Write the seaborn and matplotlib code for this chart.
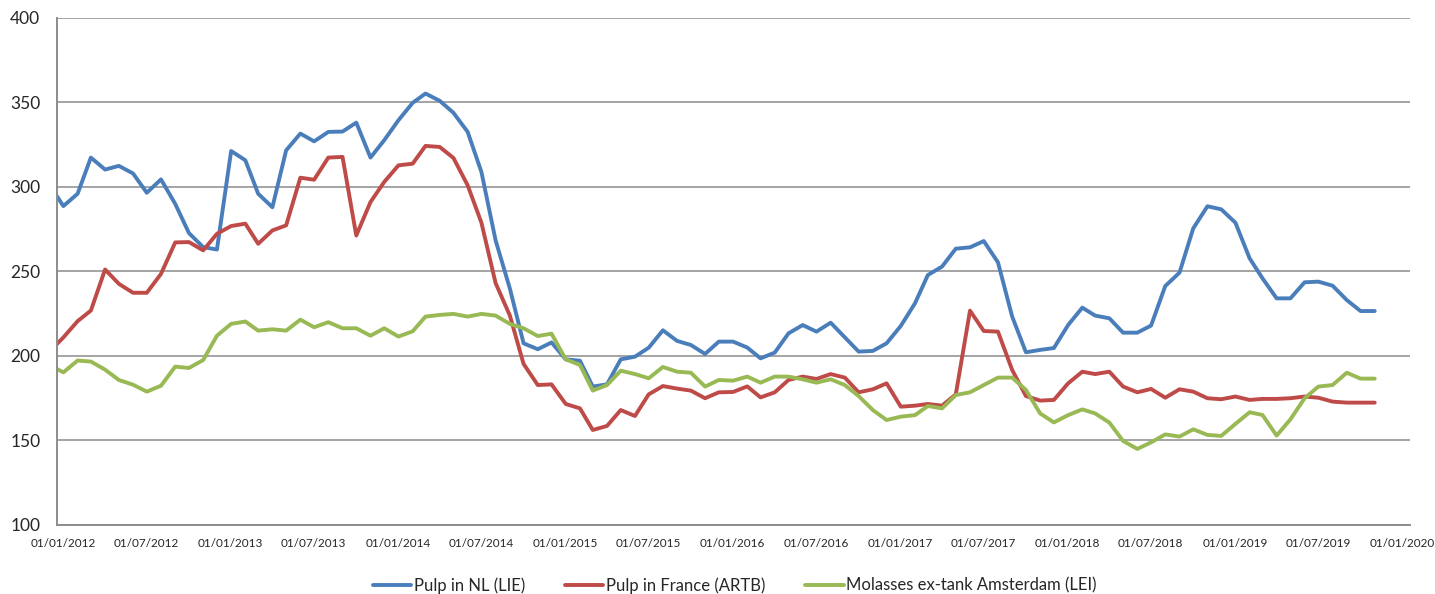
import pandas as pd
import matplotlib
matplotlib.use("Agg")
import matplotlib.pyplot as plt
import matplotlib.dates as mdates
import matplotlib.transforms as mtransforms
import seaborn as sns

# Monthly observations (mid-month), Dec 2011 .. Nov 2019
dates = pd.date_range("2011-12-01", periods=96, freq="MS") + pd.Timedelta(days=14)

pulp_nl = [
    301.5, 288.7, 296.0, 317.4, 310.3, 312.5, 308.0, 296.6, 304.5, 290.0, 272.7, 264.4,
    263.0, 321.3, 315.8, 296.0, 288.0, 321.7, 331.6, 327.0, 332.6, 332.8, 338.1, 317.4,
    327.7, 339.5, 349.8, 355.3, 351.0, 343.9, 332.6, 308.9, 268.4, 240.0, 207.5, 204.0,
    208.0, 198.0, 197.2, 181.9, 183.2, 198.0, 199.6, 204.9, 215.2, 208.9, 206.5, 201.2,
    208.5, 208.5, 205.0, 198.6, 202.0, 213.4, 218.3, 214.4, 219.7, 211.0, 202.6, 203.0,
    207.5, 217.8, 231.2, 247.9, 252.9, 263.5, 264.3, 268.0, 255.4, 223.3, 202.2, 203.6,
    204.7, 218.3, 228.6, 223.9, 222.3, 213.8, 213.8, 218.0, 241.4, 249.3, 275.5, 288.6,
    286.8, 278.9, 257.8, 246.0, 234.1, 234.1, 243.6, 244.0, 241.6, 233.1, 226.6, 226.6,
]
pulp_fr = [
    202.4, 211.0, 220.6, 226.9, 251.2, 242.7, 237.4, 237.4, 248.6, 267.2, 267.4, 262.5,
    272.3, 276.9, 278.3, 266.4, 274.3, 277.3, 305.5, 304.3, 317.4, 317.8, 271.3, 291.1,
    303.0, 312.8, 313.8, 324.3, 323.7, 317.2, 301.0, 278.9, 243.1, 224.0, 195.3, 182.8,
    183.2, 171.6, 169.0, 156.2, 158.6, 168.0, 164.5, 177.3, 182.2, 180.7, 179.5, 175.0,
    178.5, 178.7, 182.0, 175.5, 178.5, 185.8, 187.8, 186.4, 189.3, 187.2, 178.5, 180.3,
    183.8, 170.0, 170.6, 171.6, 170.6, 177.3, 226.8, 214.8, 214.4, 191.7, 176.3, 173.6,
    174.0, 183.8, 190.7, 189.3, 190.7, 181.9, 178.5, 180.5, 175.3, 180.3, 178.9, 175.0,
    174.4, 176.0, 174.0, 174.6, 174.6, 175.0, 176.0, 175.3, 173.0, 172.4, 172.4, 172.4,
]
molasses = [
    194.7, 190.3, 197.3, 196.7, 191.9, 185.8, 183.0, 178.9, 182.4, 193.7, 192.9, 197.6,
    212.0, 219.0, 220.4, 215.0, 215.8, 215.0, 221.5, 217.0, 220.0, 216.4, 216.4, 212.0,
    216.4, 211.5, 214.6, 223.3, 224.3, 224.9, 223.3, 224.9, 223.9, 219.0, 216.4, 211.8,
    213.2, 198.0, 194.7, 179.5, 182.8, 191.3, 189.3, 186.8, 193.5, 190.7, 190.1, 181.9,
    185.8, 185.4, 187.8, 184.2, 187.8, 187.8, 186.2, 184.2, 186.2, 182.8, 176.3, 168.0,
    162.1, 164.1, 165.0, 170.4, 169.0, 176.9, 178.5, 182.8, 187.2, 187.2, 179.9, 166.0,
    160.7, 165.0, 168.4, 166.0, 160.6, 149.7, 145.0, 148.9, 153.6, 152.3, 156.6, 153.3,
    152.7, 159.8, 166.7, 165.1, 152.9, 162.5, 175.0, 181.9, 182.8, 190.1, 186.6, 186.6,
]

series_names = ["Pulp in NL (LIE)", "Pulp in France (ARTB)", "Molasses ex-tank Amsterdam (LEI)"]
colors = ["#4A7EBB", "#BE4B48", "#98B954"]

df = pd.concat([
    pd.DataFrame({"date": dates, "value": vals, "series": name})
    for name, vals in zip(series_names, [pulp_nl, pulp_fr, molasses])
], ignore_index=True)

sns.set_style("white")
plt.rcParams["font.family"] = ["Lato", "DejaVu Sans"]

fig = plt.figure(figsize=(14.35, 5.94), dpi=100)
ax = fig.add_axes([0.0397, 0.1162, 0.9429, 0.8535])

sns.lineplot(data=df, x="date", y="value", hue="series", hue_order=series_names,
             palette=colors, linewidth=2.8, ax=ax, legend=True)

# axes limits and grid
ax.set_xlim(pd.Timestamp("2012-01-01"), pd.Timestamp("2020-01-31"))
ax.set_ylim(100, 400)
ax.set_yticks(range(100, 401, 50))
ax.yaxis.grid(True, color="#8C8C8C", linewidth=1.1)
ax.xaxis.grid(False)
ax.set_xlabel("")
ax.set_ylabel("")

for side in ["top", "right"]:
    ax.spines[side].set_visible(False)
for side in ["left", "bottom"]:
    ax.spines[side].set_color("#8C8C8C")
    ax.spines[side].set_linewidth(1.4)

# date ticks
ax.xaxis.set_major_locator(mdates.MonthLocator(bymonth=[1, 7]))
ax.xaxis.set_minor_locator(mdates.MonthLocator())
ax.xaxis.set_major_formatter(mdates.DateFormatter("%d/%m/%Y"))
ax.tick_params(axis="x", which="major", direction="inout", length=7, width=1.2,
               color="#8C8C8C", labelsize=8.5, pad=6)
ax.tick_params(axis="x", which="minor", direction="inout", length=4, width=1.0,
               color="#8C8C8C")
ax.tick_params(axis="y", length=0, labelsize=12.5, pad=12)

offset = mtransforms.ScaledTranslation(6 / 100, 0, fig.dpi_scale_trans)
for lbl in ax.get_xticklabels():
    lbl.set_transform(lbl.get_transform() + offset)

# legend at the bottom
handles, labels = ax.get_legend_handles_labels()
ax.get_legend().remove()
fig.legend(handles, labels, loc="lower center", bbox_to_anchor=(0.512, -0.025), ncol=3,
           frameon=False, fontsize=12, handlelength=2.3, handletextpad=0.15,
           columnspacing=2.4)

fig.savefig("out.png", dpi=100)
